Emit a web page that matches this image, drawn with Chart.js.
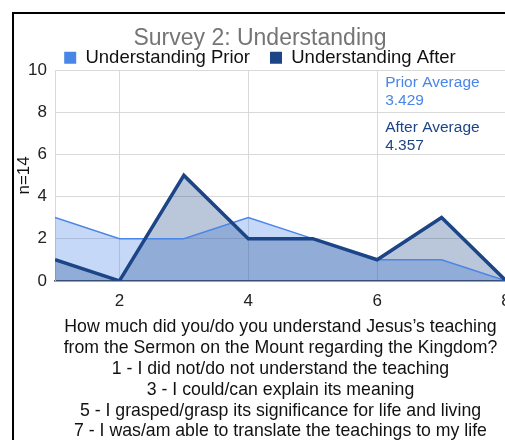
<!DOCTYPE html>
<html lang="en">
<head>
    <meta charset="utf-8">
    <script src="https://cdn.jsdelivr.net/npm/chart.js@4.4.0/dist/chart.umd.min.js"></script>
    <style>
        html, body { margin: 0; padding: 0; background: #fff; overflow: hidden; width: 505px; height: 440px; }
        /* cropped frame of the original sheet */
        .frame { position: absolute; left: 12px; top: 12px; width: 600px; height: 440px;
                 border-left: 2px solid #000; border-top: 2px solid #000; }
        #chart { position: absolute; left: 14px; top: 14px; }
    </style>
</head>
<body>
<div class="frame"></div>
<canvas id="chart" width="560" height="426"></canvas>

<script type="text/javascript">
    // rating on the 1-8 scale
    var ratings = [1, 2, 3, 4, 5, 6, 7, 8];
    // number of respondents per rating (n=14)
    var priorCounts = [3, 2, 2, 3, 2, 1, 1, 0];
    var afterCounts = [1, 0, 5, 2, 2, 1, 3, 0];

    var xTicks = [2, 4, 6, 8];
    var yTicks = [0, 2, 4, 6, 8, 10];

    var seriesNames = ["Understanding Prior", "Understanding After"];
    var chartTitle = "Survey 2: Understanding";
    var yTitle = "n=14";
    var xTitle = [
        "How much did you/do you understand Jesus\u2019s teaching",
        "from the Sermon on the Mount regarding the Kingdom?",
        "1 - I did not/do not understand the teaching",
        "3 - I could/can explain its meaning",
        "5 - I grasped/grasp its significance for life and living",
        "7 - I was/am able to translate the teachings to my life"
    ];
    var noteLabels = ["Prior Average", "3.429", "After Average", "4.357"];

    var priorColor = "#4a86e8";
    var afterColor = "#1c4587";

    function toPoints(vals) {
        return ratings.map(function (r, i) { return {x: r, y: vals[i]}; });
    }

    // averages written at the top right of the plot
    var notesPlugin = {
        id: 'notes',
        afterDatasetsDraw: function (chart) {
            var ctx = chart.ctx;
            var x = chart.scales.x.getPixelForValue(6) + 8;
            var top = chart.scales.y.getPixelForValue(10);
            var offs = [13, 31, 58, 76];
            var cols = [priorColor, priorColor, afterColor, afterColor];
            ctx.save();
            ctx.font = '15.5px "Liberation Sans", Arial, sans-serif';
            ctx.textBaseline = 'middle';
            ctx.textAlign = 'left';
            for (var i = 0; i < noteLabels.length; i++) {
                ctx.fillStyle = cols[i];
                ctx.fillText(noteLabels[i], x, top + offs[i]);
            }
            ctx.restore();
        }
    };

    Chart.defaults.font.family = '"Liberation Sans", Arial, sans-serif';
    Chart.defaults.color = '#222';

    new Chart(document.getElementById('chart'), {
        type: 'line',
        data: {
            datasets: [{
                label: seriesNames[0],
                data: toPoints(priorCounts),
                borderColor: priorColor,
                backgroundColor: "rgba(74,134,232,0.32)",
                borderWidth: 1.5,
                pointRadius: 0,
                fill: 'origin',
                tension: 0,
                order: 1
            }, {
                label: seriesNames[1],
                data: toPoints(afterCounts),
                borderColor: afterColor,
                backgroundColor: "rgba(28,69,135,0.3)",
                borderWidth: 3.5,
                pointRadius: 0,
                fill: 'origin',
                tension: 0,
                order: 0
            }]
        },
        options: {
            responsive: false,
            animation: false,
            layout: {padding: {left: 0, right: 68, top: 0, bottom: 0}},
            plugins: {
                filler: {drawTime: 'beforeDatasetsDraw'},
                title: {
                    display: true,
                    text: chartTitle,
                    color: '#757575',
                    font: {size: 23, weight: 'normal', lineHeight: 1.2},
                    padding: {top: 11, bottom: -24}
                },
                legend: {
                    display: true,
                    maxHeight: 41.4,
                    labels: {
                        color: '#111',
                        font: {size: 18.5},
                        boxWidth: 12,
                        boxHeight: 12,
                        padding: 20,
                        sort: function (a, b) { return a.datasetIndex - b.datasetIndex; },
                        generateLabels: function (chart) {
                            var items = Chart.defaults.plugins.legend.labels.generateLabels(chart);
                            items.forEach(function (it) {
                                it.fillStyle = it.strokeStyle;
                                it.lineWidth = 0;
                            });
                            return items;
                        }
                    }
                },
                tooltip: {enabled: false}
            },
            scales: {
                x: {
                    type: 'linear',
                    min: 1,
                    max: 8,
                    afterBuildTicks: function (scale) {
                        scale.ticks = xTicks.map(function (v) { return {value: v}; });
                    },
                    grid: {color: '#d9d9d9', drawTicks: false, tickLength: 0},
                    border: {color: '#3a4a66', width: 1.5},
                    ticks: {font: {size: 17}, color: '#222', padding: 10, maxRotation: 0},
                    title: {
                        display: true,
                        text: xTitle,
                        color: '#111',
                        font: {size: 17.7, lineHeight: 1.175},
                        padding: {top: -4, bottom: -2}
                    }
                },
                y: {
                    min: 0,
                    max: 10,
                    afterBuildTicks: function (scale) {
                        scale.ticks = yTicks.map(function (v) { return {value: v}; });
                    },
                    afterFit: function (scale) { scale.width = 41; },
                    grid: {color: '#d9d9d9', drawTicks: false, tickLength: 0},
                    border: {color: '#d9d9d9'},
                    ticks: {font: {size: 17}, color: '#222', padding: 8},
                    title: {
                        display: true,
                        text: yTitle,
                        color: '#111',
                        font: {size: 17},
                        padding: 0
                    }
                }
            }
        },
        plugins: [notesPlugin]
    });
</script>
</body>
</html>
